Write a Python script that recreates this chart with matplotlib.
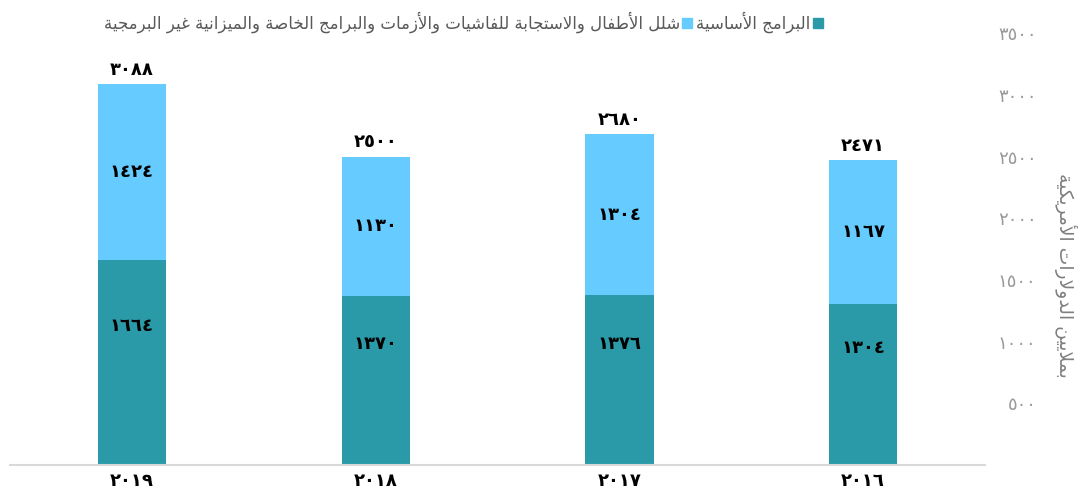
import matplotlib
matplotlib.use("Agg")
import matplotlib.pyplot as plt
from matplotlib.patches import Patch
import numpy as np

# ---------------- data ----------------
years = ["2019", "2018", "2017", "2016"]
core = [1664, 1370, 1376, 1304]            # البرامج الأساسية
polio = [1424, 1130, 1304, 1167]           # شلل الأطفال ...
totals = [3088, 2500, 2680, 2471]
yticks = [500, 1000, 1500, 2000, 2500, 3000, 3500]

label_core = "البرامج الأساسية"
label_polio = "شلل الأطفال والاستجابة للفاشيات والأزمات والبرامج الخاصة والميزانية غير البرمجية"
ylabel = "بملايين الدولارات الأمريكية"

# ---------------- Arabic helpers ----------------
DUAL = {'\u0626': 0xFE89, '\u0628': 0xFE8F, '\u062A': 0xFE95, '\u062B': 0xFE99, '\u062C': 0xFE9D,
        '\u062D': 0xFEA1, '\u062E': 0xFEA5, '\u0633': 0xFEB1, '\u0634': 0xFEB5, '\u0635': 0xFEB9,
        '\u0636': 0xFEBD, '\u0637': 0xFEC1, '\u0638': 0xFEC5, '\u0639': 0xFEC9, '\u063A': 0xFECD,
        '\u0641': 0xFED1, '\u0642': 0xFED5, '\u0643': 0xFED9, '\u0644': 0xFEDD, '\u0645': 0xFEE1,
        '\u0646': 0xFEE5, '\u0647': 0xFEE9, '\u064A': 0xFEF1}
RIGHT = {'\u0622': 0xFE81, '\u0623': 0xFE83, '\u0624': 0xFE85, '\u0625': 0xFE87, '\u0627': 0xFE8D,
         '\u0629': 0xFE93, '\u062F': 0xFEA9, '\u0630': 0xFEAB, '\u0631': 0xFEAD, '\u0632': 0xFEAF,
         '\u0648': 0xFEED, '\u0649': 0xFEEF}
LAMALEF = {'\u0622': 0xFEF5, '\u0623': 0xFEF7, '\u0625': 0xFEF9, '\u0627': 0xFEFB}


def shape(text):
    toks = []
    i = 0
    while i < len(text):
        c = text[i]
        if c == '\u0644' and i + 1 < len(text) and text[i + 1] in LAMALEF:
            toks.append(('R', LAMALEF[text[i + 1]]))
            i += 2
            continue
        if c in DUAL:
            toks.append(('D', DUAL[c]))
        elif c in RIGHT:
            toks.append(('R', RIGHT[c]))
        else:
            toks.append(('N', c))
        i += 1
    out = []
    for k, (t, v) in enumerate(toks):
        if t == 'N':
            out.append(v)
            continue
        jp = k > 0 and toks[k - 1][0] == 'D'
        jn = t == 'D' and k + 1 < len(toks) and toks[k + 1][0] in ('D', 'R')
        if t == 'D':
            off = 3 if (jp and jn) else 1 if jp else 2 if jn else 0
        else:
            off = 1 if jp else 0
        out.append(chr(v + off))
    return ''.join(out)[::-1]


AR_DIG = str.maketrans("0123456789", "٠١٢٣٤٥٦٧٨٩")


def ar_num(v):
    return str(v).translate(AR_DIG)


# ---------------- figure ----------------
plt.rcParams['font.family'] = ['DejaVu Sans']
W, H = 1081, 497
fig = plt.figure(figsize=(W / 100, H / 100), dpi=100)
ax = fig.add_axes([10 / W, 32 / H, 975 / W, 444 / H])

c_core = "#2A9AA8"
c_polio = "#66CCFF"

x = np.arange(len(years))
bw = 0.28
ax.bar(x, core, bw, color=c_core, zorder=2)
ax.bar(x, polio, bw, bottom=core, color=c_polio, zorder=2)

ax.set_xlim(-0.5, len(years) - 0.5)
ax.set_ylim(0, 3600)

for xi, c, p, t in zip(x, core, polio, totals):
    ax.annotate(ar_num(t), (xi, t), xytext=(0, 4), textcoords="offset points",
                ha="center", va="bottom", fontsize=13, fontweight="bold", color="black")
    ax.annotate(ar_num(p), (xi, c + p / 2), ha="center", va="center",
                fontsize=13, fontweight="bold", color="black")
    ax.annotate(ar_num(c), (xi, c / 2), xytext=(0, 26), textcoords="offset points",
                ha="center", va="center", fontsize=13, fontweight="bold", color="black")

ax.set_xticks(x)
ax.set_xticklabels([ar_num(y) for y in years], fontsize=13, fontweight="bold", color="black")
ax.tick_params(axis="x", length=0, pad=5)

ax.yaxis.tick_right()
ax.set_yticks(yticks)
ax.set_yticklabels([ar_num(v) for v in yticks], fontsize=13, color="#9A9A9A", ha="right")
ax.tick_params(axis="y", length=0, pad=37)

for s in ["top", "left", "right"]:
    ax.spines[s].set_visible(False)
ax.spines["bottom"].set_color("#D9D9D9")
ax.spines["bottom"].set_linewidth(1.5)

fig.text(1066 / W, (H - 275) / H, shape(ylabel), rotation=270, ha="center", va="center",
         fontsize=13.5, color="#7F7F7F")

handles = [Patch(color=c_polio), Patch(color=c_core)]
labels = [shape(label_polio), shape(label_core)]
fig.legend(handles, labels, loc="upper left", bbox_to_anchor=(92 / W, 1.0), ncol=2,
           frameon=False, markerfirst=False, handlelength=0.6, handleheight=0.6,
           handletextpad=0.15, columnspacing=0.2, fontsize=12, labelcolor="#595959",
           borderpad=0.2)

fig.savefig("out.png", dpi=100)
